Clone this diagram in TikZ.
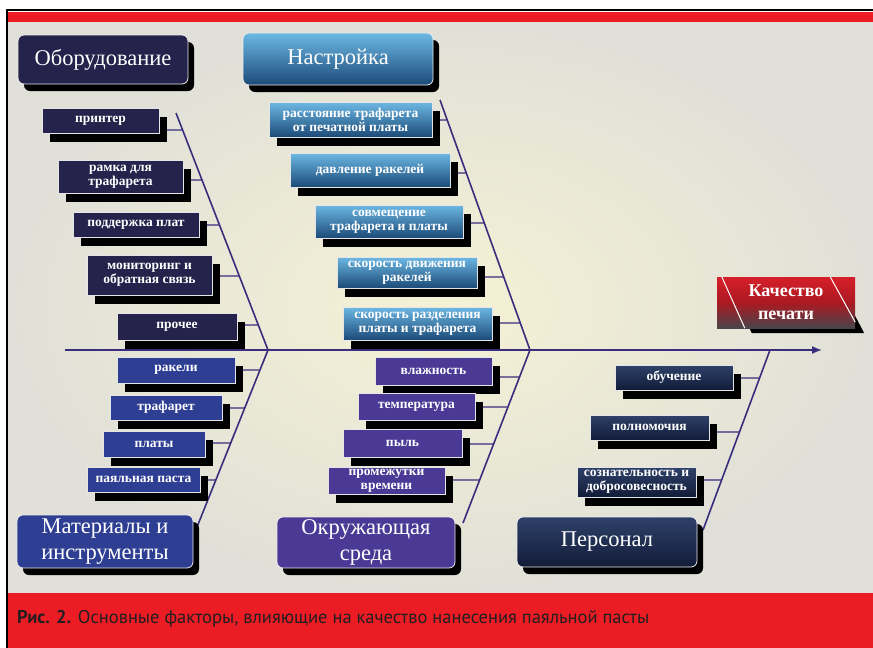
\documentclass[tikz,border=0pt]{standalone}
\usepackage{fontspec}
\setmainfont{Liberation Serif}
\newfontfamily\capfont{PT Sans}
\usetikzlibrary{arrows.meta}
\usetikzlibrary{calc}
\usetikzlibrary{shadows}

\definecolor{capred}{HTML}{EC1C24}
\definecolor{captext}{HTML}{231F20}
\definecolor{paper}{HTML}{F5F2D4}
\definecolor{paperedge}{HTML}{E0E0D8}
\definecolor{bonecol}{HTML}{3A2D7D}
\definecolor{equipnavy}{HTML}{25224B}
\definecolor{setuptop}{HTML}{6DB8E4}
\definecolor{setupbot}{HTML}{1B4A78}
\definecolor{materblue}{HTML}{2E3E92}
\definecolor{envpurple}{HTML}{4A3A96}
\definecolor{stafftop}{HTML}{2E4169}
\definecolor{staffbot}{HTML}{121C38}
\definecolor{headred}{HTML}{D61F2A}
\definecolor{headdark}{HTML}{48454A}

\pgfdeclarelayer{back}
\pgfdeclarelayer{lines}
\pgfsetlayers{back,lines,main}

\begin{document}
\begin{tikzpicture}[x=1pt, y=-1pt,
    wh/.style 2 args={minimum width=#1pt, minimum height=#2pt},
    sub/.style={draw=white!80!gray, line width=0.6pt, text=white, align=center,
      inner sep=1pt, font=\fontsize{13.5}{14}\selectfont\bfseries,
      drop shadow={shadow xshift=8pt, shadow yshift=-9pt, fill=black, opacity=1}},
    title/.style={draw=white!85!gray, line width=0.8pt, rounded corners=6pt,
      text=white, align=center, inner sep=2pt, font=\fontsize{22.5}{26}\selectfont,
      drop shadow={shadow xshift=6pt, shadow yshift=-7pt, fill=black, opacity=1}},
    eqbox/.style={fill=equipnavy},
    stbox/.style={top color=setuptop, bottom color=setupbot},
    mabox/.style={fill=materblue},
    enbox/.style={fill=envpurple},
    pebox/.style={top color=stafftop, bottom color=staffbot},
    bone/.style={draw=bonecol, line width=1.6pt},
    tick/.style={draw=bonecol, line width=1.2pt}]

  \useasboundingbox (0,0) rectangle (873,648);

  \begin{pgfonlayer}{back}
    \fill[white] (0,0) rectangle (873,648);
    \shade[inner color=paper, outer color=paperedge] (8,22) rectangle (873,593);
    \fill[capred] (8,12) rectangle (873,22);
    \fill[capred] (8,593) rectangle (873,648);
    \draw[line width=1.5pt] (7,648) -- (7,10) -- (873,10);
  \end{pgfonlayer}

  \coordinate (tail) at (65,350);
  \coordinate (tip) at (822,350);
  \coordinate (j1) at (268,350);
  \coordinate (j2) at (530,350);
  \coordinate (j3) at (770,350);
  \coordinate (b1) at (176,113);
  \coordinate (b2) at (440,100);
  \coordinate (b3) at (197,527);
  \coordinate (b4) at (463,523);
  \coordinate (b5) at (703,530);

  % categories
  \node[title, eqbox, wh={170}{49}] (equip) at (103,59.5) {Оборудование};
  \node[title, stbox, wh={190}{52}] (setup) at (338,59) {Настройка};
  \node[title, mabox, wh={176}{53}] (mater) at (105,541.5) {Материалы и\\инструменты};
  \node[title, enbox, wh={178}{51}] (env) at (366,542.5) {Окружающая\\среда};
  \node[title, pebox, wh={180}{50}] (staff) at (607,542) {Персонал};

  \node[sub, eqbox, wh={117}{25}] (eq1) at (100.5,120.5) {принтер};
  \node[sub, eqbox, wh={125}{33}] (eq2) at (120.5,176.5) {рамка для\\трафарета};
  \node[sub, eqbox, wh={126}{25}] (eq3) at (136,224.5) {поддержка плат};
  \node[sub, eqbox, wh={125}{40}] (eq4) at (149.5,275) {мониторинг и\\обратная связь};
  \node[sub, eqbox, wh={120}{27}] (eq5) at (177,326.5) {прочее};

  \node[sub, stbox, wh={163}{35}] (st1) at (350.5,119.5) {расстояние трафарета\\от печатной платы};
  \node[sub, stbox, wh={160}{34}] (st2) at (370,170) {давление ракелей};
  \node[sub, stbox, wh={148}{33}] (st3) at (389,221.5) {совмещение\\трафарета и платы};
  \node[sub, stbox, wh={140}{31}] (st4) at (407,272.5) {скорость движения\\ракелей};
  \node[sub, stbox, wh={149}{33}] (st5) at (417.5,323.5) {скорость разделения\\платы и трафарета};

  \node[sub, mabox, wh={118}{26}] (ma1) at (176,370) {ракели};
  \node[sub, mabox, wh={112}{25}] (ma2) at (166,407.5) {трафарет};
  \node[sub, mabox, wh={102}{26}] (ma3) at (154,444) {платы};
  \node[sub, mabox, wh={113}{25}] (ma4) at (143.5,479.5) {паяльная паста};

  \node[sub, enbox, wh={117}{28}] (en1) at (433.5,371) {влажность};
  \node[sub, enbox, wh={117}{27}] (en2) at (416.5,406.5) {температура};
  \node[sub, enbox, wh={119}{28}] (en3) at (402.5,443) {пыль};
  \node[sub, enbox, wh={117}{27}] (en4) at (386.5,480.5) {промежутки\\времени};

  \node[sub, pebox, wh={118}{25}] (pe1) at (674,377.5) {обучение};
  \node[sub, pebox, wh={119}{25}] (pe2) at (649.5,427.5) {полномочия};
  \node[sub, pebox, wh={119}{30}] (pe3) at (636.5,482) {сознательность и\\добросовесность};

  % effect
  \node[top color=headred, bottom color=headdark, middle color=headred!80!black,
    wh={138}{51}, inner sep=0pt, text=white, align=center,
    font=\fontsize{18}{23}\selectfont\bfseries] (head) at (786,302.5) {Качество\\печати};
  \coordinate (hp1) at ($(head.north west)+(5,0)$);
  \coordinate (hp2) at ($(head.north east)+(-25,0)$);
  \coordinate (hp3) at ($(head.south east)+(0,-6)$);
  \coordinate (hp4) at ($(head.south west)+(28,0)$);
  \draw[white, line width=1pt] (hp1) -- (hp4) (hp2) -- (hp3);

  \begin{pgfonlayer}{lines}
    \fill[black] ($(hp1)+(7,5)$) -- ($(hp2)+(7,5)$) -- ($(head.south east)+(9,5)$)
      -- ($(hp4)+(7,5)$) -- cycle;
    \draw[bone, -{Latex[length=10pt, width=8pt]}] (tail) -- (tip);
    \draw[bone] (b1) -- (j1) -- (b3);
    \draw[bone] (b2) -- (j2) -- (b4);
    \draw[bone] (j3) -- (b5);
    \foreach \s/\y in {eq1/130, eq2/180, eq3/225, eq4/276, eq5/325}
      \draw[tick] (\s.east |- 0,\y) -- ($(b1)!{(\y-113)/237}!(j1)$);
    \foreach \s/\y in {st1/120, st2/173, st3/223, st4/277, st5/323}
      \draw[tick] (\s.east |- 0,\y) -- ($(b2)!{(\y-100)/250}!(j2)$);
    \foreach \s/\y in {ma1/370, ma2/408, ma3/443, ma4/480}
      \draw[tick] (\s.east |- 0,\y) -- ($(j1)!{(\y-350)/177}!(b3)$);
    \foreach \s/\y in {en1/377, en2/407, en3/444, en4/480}
      \draw[tick] (\s.east |- 0,\y) -- ($(j2)!{(\y-350)/173}!(b4)$);
    \foreach \s/\y in {pe1/378, pe2/432, pe3/480}
      \draw[tick] (\s.east |- 0,\y) -- ($(j3)!{(\y-350)/180}!(b5)$);
  \end{pgfonlayer}

  \node[anchor=west, inner sep=0pt, text=captext,
    font=\capfont\fontsize{18.5}{22}\selectfont] (cap) at (17,619)
    {\textbf{Рис. 2.} Основные факторы, влияющие на качество нанесения паяльной пасты};
\end{tikzpicture}
\end{document}
